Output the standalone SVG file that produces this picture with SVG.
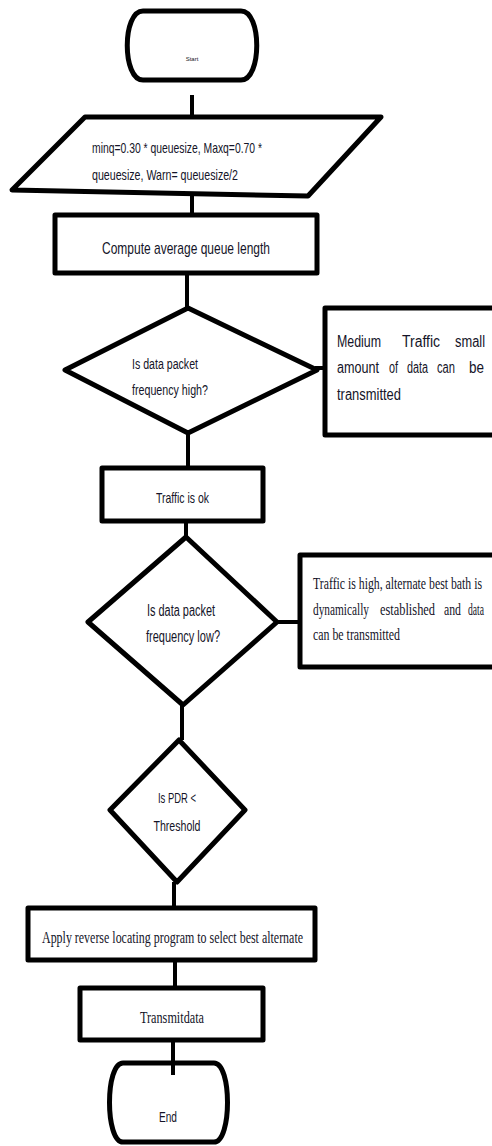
<svg xmlns="http://www.w3.org/2000/svg" width="492" height="1146" viewBox="0 0 492 1146">
<style>
.shape{fill:#fff;stroke:#000;stroke-width:5;stroke-linejoin:round}
.conn{stroke:#000;stroke-width:4;fill:none}
.sans{font-family:"Liberation Sans",Arial,sans-serif;fill:#141428}
.serif{font-family:"Liberation Serif","Times New Roman",serif;fill:#141428}
</style>
<rect width="492" height="1146" fill="#fff"/>
<g id="connectors">
<line class="conn" x1="192" y1="95" x2="192" y2="118"/>
<line class="conn" x1="192" y1="196" x2="192" y2="215"/>
<line class="conn" x1="187" y1="273" x2="187" y2="308"/>
<line class="conn" x1="315" y1="368" x2="337" y2="368"/>
<line class="conn" x1="188" y1="433" x2="188" y2="468"/>
<line class="conn" x1="186" y1="521" x2="186" y2="537"/>
<line class="conn" x1="277" y1="622" x2="300" y2="622"/>
<line class="conn" x1="182" y1="705" x2="182" y2="740"/>
<line class="conn" x1="174" y1="882" x2="174" y2="908"/>
<line class="conn" x1="175" y1="960" x2="175" y2="988"/>
<line class="conn" x1="173" y1="1040" x2="173" y2="1075"/>
</g>
<g id="start">
<path class="shape" d="M143,11 L241,11 C262,11 262,80 241,80 L143,80 C122,80 122,11 143,11 Z"/>
<text class="sans" x="192" y="61" font-size="6" text-anchor="middle" fill="#223">Start</text>
</g>
<g id="init">
<polygon class="shape" points="85,117 381,117 308,196 12,190"/>
<text class="sans" x="92" y="153" font-size="15" textLength="170" lengthAdjust="spacingAndGlyphs">minq=0.30 * queuesize, Maxq=0.70 *</text>
<text class="sans" x="92" y="180" font-size="15" textLength="146" lengthAdjust="spacingAndGlyphs">queuesize, Warn= queuesize/2</text>
</g>
<g id="compute">
<rect class="shape" x="55" y="215" width="262" height="58"/>
<text class="sans" x="102" y="254" font-size="17" textLength="168" lengthAdjust="spacingAndGlyphs">Compute average queue length</text>
</g>
<g id="decision1">
<polygon class="shape" points="188,308 317,370 188,433 65,370"/>
<text class="sans" x="132" y="369" font-size="14" textLength="66" lengthAdjust="spacingAndGlyphs">Is data packet</text>
<text class="sans" x="132" y="395" font-size="14" textLength="76" lengthAdjust="spacingAndGlyphs">frequency high?</text>
</g>
<g id="medium">
<rect class="shape" x="325" y="308" width="175" height="127"/>
<g class="sans" font-size="16">
<text x="337" y="347" textLength="44" lengthAdjust="spacingAndGlyphs">Medium</text>
<text x="402" y="347" textLength="38" lengthAdjust="spacingAndGlyphs">Traffic</text>
<text x="485" y="347" text-anchor="end" textLength="30" lengthAdjust="spacingAndGlyphs">small</text>
<text x="337" y="373" textLength="42" lengthAdjust="spacingAndGlyphs">amount</text>
<text x="389" y="373" textLength="9" lengthAdjust="spacingAndGlyphs">of</text>
<text x="407" y="373" textLength="21" lengthAdjust="spacingAndGlyphs">data</text>
<text x="437" y="373" textLength="18" lengthAdjust="spacingAndGlyphs">can</text>
<text x="484" y="373" text-anchor="end" textLength="15" lengthAdjust="spacingAndGlyphs">be</text>
<text x="337" y="400" textLength="64" lengthAdjust="spacingAndGlyphs">transmitted</text>
</g>
</g>
<g id="traffic-ok">
<rect class="shape" x="102" y="468" width="161" height="53"/>
<text class="sans" x="156" y="503" font-size="15" textLength="53" lengthAdjust="spacingAndGlyphs">Traffic is ok</text>
</g>
<g id="decision2">
<polygon class="shape" points="186,537 277,622 183,705 88,622"/>
<text class="sans" x="181" y="616" font-size="16" text-anchor="middle" textLength="68" lengthAdjust="spacingAndGlyphs">Is data packet</text>
<text class="sans" x="183" y="642" font-size="16" text-anchor="middle" textLength="74" lengthAdjust="spacingAndGlyphs">frequency low?</text>
</g>
<g id="high">
<rect class="shape" x="300" y="555" width="200" height="112"/>
<g class="serif" font-size="16">
<text x="313" y="589" textLength="169" lengthAdjust="spacingAndGlyphs">Traffic is high, alternate best bath is</text>
<text x="313" y="615" textLength="56" lengthAdjust="spacingAndGlyphs">dynamically</text>
<text x="380" y="615" textLength="55" lengthAdjust="spacingAndGlyphs">established</text>
<text x="444" y="615" textLength="17" lengthAdjust="spacingAndGlyphs">and</text>
<text x="484" y="615" text-anchor="end" textLength="16" lengthAdjust="spacingAndGlyphs">data</text>
<text x="313" y="640" textLength="87" lengthAdjust="spacingAndGlyphs">can be transmitted</text>
</g>
</g>
<g id="decision3">
<polygon class="shape" points="179,740 245,810 177,882 110,810"/>
<text class="sans" x="177" y="803" font-size="15" text-anchor="middle" textLength="38" lengthAdjust="spacingAndGlyphs">Is PDR &lt;</text>
<text class="sans" x="177" y="831" font-size="15" text-anchor="middle" textLength="47" lengthAdjust="spacingAndGlyphs">Threshold</text>
</g>
<g id="apply">
<rect class="shape" x="28" y="908" width="287" height="52"/>
<text class="serif" x="42" y="943" font-size="17" textLength="261" lengthAdjust="spacingAndGlyphs">Apply reverse locating program to select best alternate</text>
</g>
<g id="transmit">
<rect class="shape" x="80" y="988" width="183" height="52"/>
<text class="serif" x="140" y="1023" font-size="17" textLength="64" lengthAdjust="spacingAndGlyphs">Transmitdata</text>
</g>
<g id="end">
<path class="shape" d="M123,1063 L214,1063 C232,1063 232,1142 214,1142 L123,1142 C105,1142 105,1063 123,1063 Z"/>
<line class="conn" x1="173" y1="1060" x2="173" y2="1075"/>
<text class="sans" x="168" y="1122" font-size="15" text-anchor="middle" textLength="18" lengthAdjust="spacingAndGlyphs">End</text>
</g>
</svg>
